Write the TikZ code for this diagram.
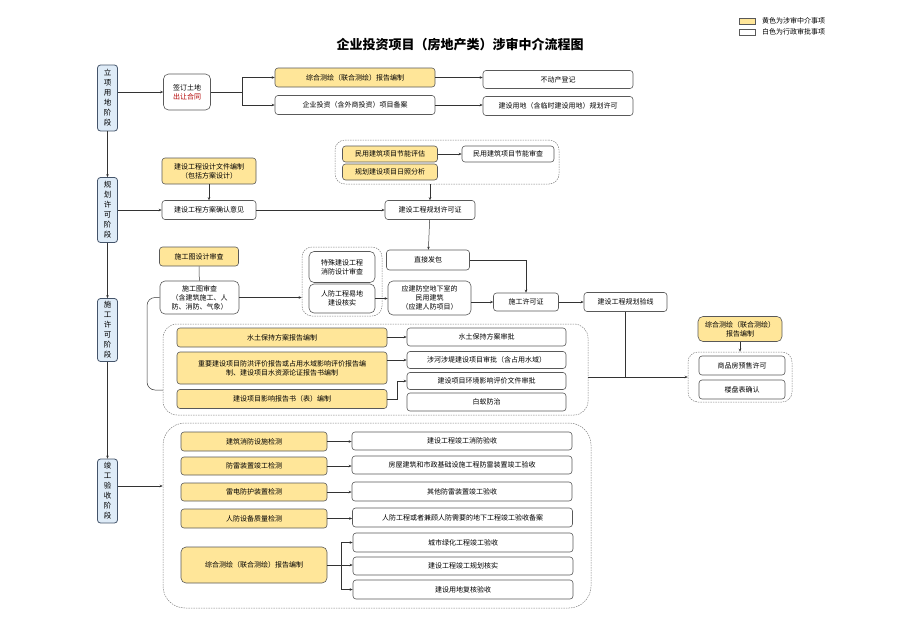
\documentclass[tikz,border=0pt]{standalone}
\usepackage{fontspec}
\setmainfont{Noto Sans CJK SC}
\usetikzlibrary{arrows.meta}
\definecolor{zjyellow}{HTML}{FFE699}
\definecolor{stageblue}{HTML}{DEEBF7}
\definecolor{stageline}{HTML}{44546A}
\definecolor{boxline}{HTML}{595959}
\tikzset{
    box/.style={draw=boxline, line width=0.6pt, rounded corners=3pt, align=center, inner sep=1pt,
        font=\fontsize{7}{9}\selectfont},
    yellowbox/.style={box, fill=zjyellow},
    whitebox/.style={box, fill=white},
    stagebox/.style={draw=stageline, fill=stageblue, line width=0.8pt, rounded corners=3pt, align=center,
        inner sep=1pt, minimum width=20, font=\fontsize{7.5}{10}\selectfont},
    groupbox/.style={draw=gray, dash pattern=on 1.5pt off 1pt, line width=0.5pt, rounded corners=10pt},
    conn/.style={draw=black!80, line width=0.5pt},
    arr/.style={conn, -{Stealth[length=3pt,width=2.5pt]}},
}
\begin{document}
\begin{tikzpicture}[x=1pt,y=-1pt]
    \useasboundingbox (0,0) rectangle (897,630);
    %legend
    \node[draw=boxline, fill=zjyellow, line width=0.6pt, minimum width=16, minimum height=6, inner sep=0pt] (legy) at (747,21) {};
    \node[draw=boxline, fill=white, line width=0.6pt, minimum width=16, minimum height=6, inner sep=0pt] (legw) at (747,32) {};
    \node[anchor=west, font=\fontsize{7}{8}\selectfont, inner sep=0pt] (legyt) at (762,21) {黄色为涉审中介事项};
    \node[anchor=west, font=\fontsize{7}{8}\selectfont, inner sep=0pt] (legwt) at (762,32) {白色为行政审批事项};
    %title
    \node[font=\fontsize{13}{15}\selectfont\bfseries] (title) at (460,45) {企业投资项目（房地产类）涉审中介流程图};

    %stages
    \node[stagebox, minimum height=66] (s1) at (107.5,98) {立\\项\\用\\地\\阶\\段};
    \node[stagebox, minimum height=65] (s2) at (107.5,210) {规\\划\\许\\可\\阶\\段};
    \node[stagebox, minimum height=63] (s3) at (107.5,330) {施\\工\\许\\可\\阶\\段};
    \node[stagebox, minimum height=64] (s4) at (107.5,491) {竣\\工\\验\\收\\阶\\段};
    \draw[arr] (s1) -- (s2);
    \draw[arr] (s2) -- (s3);
    \draw[arr] (s3) -- (s4);

    %land stage
    \node[whitebox, minimum width=47, minimum height=36, rounded corners=5pt] (land) at (187,92)
        {签订土地\\\textcolor{red!70!black}{出让合同}};
    \node[yellowbox, minimum width=160, minimum height=19] (cehui1) at (355,77.5) {综合测绘（联合测绘）报告编制};
    \node[whitebox, minimum width=160, minimum height=19] (beian) at (355,105) {企业投资（含外商投资）项目备案};
    \node[whitebox, minimum width=150, minimum height=18] (budong) at (558,79.5) {不动产登记};
    \node[whitebox, minimum width=150, minimum height=19] (ydxk) at (558,106) {建设用地（含临时建设用地）规划许可};
    \draw[arr] (land.west -| s1.east) -- (land.west);
    \draw[conn] (land.east) -- ++(31,0) coordinate (b1);
    \draw[arr] (b1) |- (cehui1.west);
    \draw[arr] (b1) |- (beian.west);
    \draw[arr] (cehui1.east) -- (cehui1.east -| budong.west);
    \draw[arr] (beian.east) -- (beian.east -| ydxk.west);

    %planning stage
    \node[yellowbox, minimum width=94, minimum height=26] (sheji) at (209,171) {建设工程设计文件编制\\（包括方案设计）};
    \node[whitebox, minimum width=94, minimum height=19] (fangan) at (209,210) {建设工程方案确认意见};
    \node[groupbox, minimum width=224, minimum height=44] (grp1) at (447,162) {};
    \node[yellowbox, minimum width=95, minimum height=16] (jieneng) at (390,154) {民用建筑项目节能评估};
    \node[yellowbox, minimum width=95, minimum height=16] (rizhao) at (390,172) {规划建设项目日照分析};
    \node[whitebox, minimum width=92, minimum height=16] (jnsc) at (508,154) {民用建筑项目节能审查};
    \node[whitebox, minimum width=90, minimum height=19] (ghxkz) at (430,210) {建设工程规划许可证};
    \draw[arr] (sheji) -- (fangan);
    \draw[arr] (fangan.west -| s2.east) -- (fangan.west);
    \draw[arr] (fangan) -- (ghxkz);
    \draw[arr] (jieneng) -- (jnsc);
    \draw[arr] (ghxkz.north |- grp1.south) -- (ghxkz.north);

    %construction permit stage
    \node[yellowbox, minimum width=79, minimum height=19] (sgtsj) at (199,256.5) {施工图设计审查};
    \node[whitebox, minimum width=79, minimum height=33, rounded corners=5pt] (sgtsc) at (199.5,297.5)
        {施工图审查\\（含建筑施工、人\\防、消防、气象）};
    \node[groupbox, minimum width=80, minimum height=69] (grp2) at (342,281.5) {};
    \node[whitebox, minimum width=66, minimum height=31, rounded corners=5pt] (xiaofang) at (342,267) {特殊建设工程\\消防设计审查};
    \node[whitebox, minimum width=66, minimum height=29, rounded corners=5pt] (renfang) at (342,298.5) {人防工程易地\\建设核实};
    \node[whitebox, minimum width=83, minimum height=20] (zhijie) at (428,260) {直接发包};
    \node[whitebox, minimum width=83, minimum height=34, rounded corners=5pt] (yingjian) at (429.5,298)
        {应建防空地下室的\\民用建筑\\（应建人防项目）};
    \node[whitebox, minimum width=65, minimum height=18] (sgxkz) at (526,302) {施工许可证};
    \node[whitebox, minimum width=83, minimum height=19] (yanxian) at (625.5,302) {建设工程规划验线};
    \draw[conn] (sgtsj) -- (sgtsc);
    \draw[arr] (sgtsc.east) -- (sgtsc.east -| grp2.west);
    \draw[arr] (renfang.east) -- (renfang.east -| yingjian.west);
    \draw[arr] (ghxkz) -- (zhijie);
    \draw[arr] (zhijie.east) -| (sgxkz.north);
    \draw[arr] (yingjian.east |- sgxkz.west) -- (sgxkz.west);
    \draw[arr] (sgxkz) -- (yanxian);

    %approvals group
    \node[groupbox, rounded corners=14pt, minimum width=425, minimum height=91] (grp3) at (375.5,369.5) {};
    \node[yellowbox, minimum width=210, minimum height=19] (shuitu) at (282,337.5) {水土保持方案报告编制};
    \node[yellowbox, minimum width=210, minimum height=32] (fanghong) at (282,368)
        {重要建设项目防洪评价报告或占用水域影响评价报告编\\制、建设项目水资源论证报告书编制};
    \node[yellowbox, minimum width=210, minimum height=19] (yingxiang) at (282,399) {建设项目影响报告书（表）编制};
    \node[whitebox, minimum width=159, minimum height=18] (shuitusp) at (486.5,337) {水土保持方案审批};
    \node[whitebox, minimum width=159, minimum height=17] (shehe) at (486.5,360) {涉河涉堤建设项目审批（含占用水域）};
    \node[whitebox, minimum width=159, minimum height=17] (huanping) at (486.5,381) {建设项目环境影响评价文件审批};
    \node[whitebox, minimum width=159, minimum height=18] (baiyi) at (486.5,402) {白蚁防治};
    \draw[conn, rounded corners=8pt] (sgtsc.west) -| (147,390) -- (grp3.west |- 0,390);
    \draw[arr] (shuitu.east |- shuitusp.west) -- (shuitusp.west);
    \draw[arr] (shehe.west -| fanghong.east) -- (shehe.west);
    \draw[arr] (yingxiang.east) -- ++(10,0) |- (huanping.west);

    %pre-sale group
    \node[yellowbox, minimum width=84, minimum height=25, rounded corners=5pt] (cehui2) at (740,329) {综合测绘（联合测绘）\\报告编制};
    \node[groupbox, minimum width=104, minimum height=50] (grp4) at (740,377) {};
    \node[whitebox, minimum width=86, minimum height=19] (yushou) at (742,365.5) {商品房预售许可};
    \node[whitebox, minimum width=86, minimum height=19] (loupan) at (742,389.5) {楼盘表确认};
    \draw[arr] (cehui2) -- (grp4);
    \draw[conn] (yanxian) -- (yanxian.south |- grp4.west);
    \draw[arr] (grp3.east |- grp4.west) -- (grp4.west);

    %completion stage
    \node[groupbox, rounded corners=22pt, minimum width=428, minimum height=185] (grp5) at (377,515.5) {};
    \node[yellowbox, minimum width=146, minimum height=19] (jc1) at (254,441.5) {建筑消防设施检测};
    \node[yellowbox, minimum width=146, minimum height=18] (jc2) at (254,466) {防雷装置竣工检测};
    \node[yellowbox, minimum width=146, minimum height=18] (jc3) at (254,492) {雷电防护装置检测};
    \node[yellowbox, minimum width=146, minimum height=19] (jc4) at (254,518.5) {人防设备质量检测};
    \node[yellowbox, minimum width=146, minimum height=36, rounded corners=5pt] (jc5) at (254,565) {综合测绘（联合测绘）报告编制};
    \node[whitebox, minimum width=220, minimum height=18] (ys1) at (462,441) {建设工程竣工消防验收};
    \node[whitebox, minimum width=220, minimum height=18] (ys2) at (462,465) {房屋建筑和市政基础设施工程防雷装置竣工验收};
    \node[whitebox, minimum width=220, minimum height=19] (ys3) at (462,491.5) {其他防雷装置竣工验收};
    \node[whitebox, minimum width=220, minimum height=19] (ys4) at (462.5,517.5) {人防工程或者兼顾人防需要的地下工程竣工验收备案};
    \node[whitebox, minimum width=220, minimum height=19] (ys5) at (463,542.5) {城市绿化工程竣工验收};
    \node[whitebox, minimum width=220, minimum height=18] (ys6) at (463,566) {建设工程竣工规划核实};
    \node[whitebox, minimum width=220, minimum height=19] (ys7) at (463,589.5) {建设用地复核验收};
    \draw[arr] (s4.east |- 0,486) -- (grp5.west |- 0,486);
    \foreach \i in {1,2,3,4}
        {%
            \draw[arr] (jc\i.east) -- (jc\i.east -| ys\i.west);
        }
    \draw[conn] (jc5.east) -- ++(14,0) coordinate (b2);
    \draw[arr] (b2) |- (ys5.west);
    \draw[arr] (b2) -- (b2 -| ys6.west);
    \draw[arr] (b2) |- (ys7.west);
\end{tikzpicture}
\end{document}
